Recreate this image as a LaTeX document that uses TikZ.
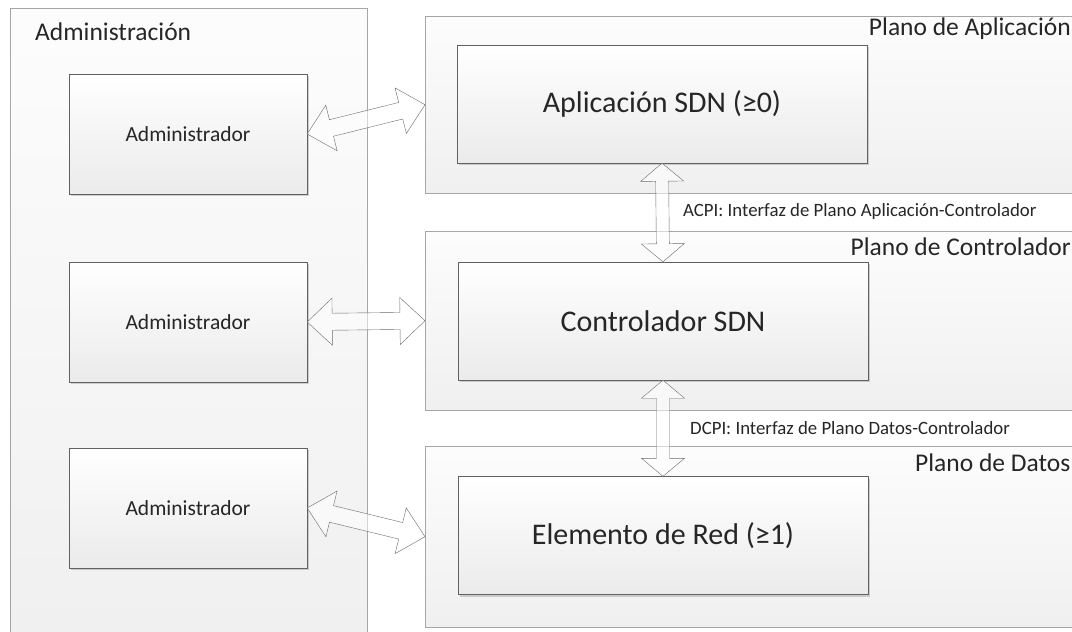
\documentclass[tikz,border=0pt]{standalone}
\usepackage{fontspec}
\setmainfont{Carlito}
\usetikzlibrary{calc, shadows}

% flecha de bloque doble entre dos anclas: {desde}{hasta}{largo punta}{ancho punta}{ancho cuerpo}
\newcommand{\dblblockarrow}[5]{%
    \path let \p1=(#1), \p2=(#2) in \pgfextra{%
        \pgfmathsetmacro\blklen{veclen(\x2-\x1,\y2-\y1)}%
        \pgfmathsetmacro\blkang{atan2(\y2-\y1,\x2-\x1)}%
        \xdef\blklen{\blklen}\xdef\blkang{\blkang}};
    \draw[blockarrow, shift={(#1)}, rotate=\blkang]
        (0pt,0pt) -- ({#3*1pt},{#4*0.5pt}) -- ({#3*1pt},{#5*0.5pt})
        -- ({\blklen*1pt-#3*1pt},{#5*0.5pt}) -- ({\blklen*1pt-#3*1pt},{#4*0.5pt})
        -- ({\blklen*1pt},0pt)
        -- ({\blklen*1pt-#3*1pt},{-#4*0.5pt}) -- ({\blklen*1pt-#3*1pt},{-#5*0.5pt})
        -- ({#3*1pt},{-#5*0.5pt}) -- ({#3*1pt},{-#4*0.5pt}) -- cycle;
}

\begin{document}
\begin{tikzpicture}[
        x=1pt, y=-1pt,
        % Estilos de las zonas y de las cajas
        areabox/.style={rectangle, draw=black!35, top color=black!1, bottom color=black!6, anchor=north west, inner sep=0pt},
        adminbox/.style={rectangle, draw=black!62, top color=white, bottom color=black!8, minimum width=238pt, minimum height=120pt, font=\fontsize{21.5}{26}\selectfont, text=black!85, drop shadow={shadow xshift=2pt, shadow yshift=-2pt, fill=black!30, opacity=0.6}},
        sdnbox/.style={rectangle, draw=black!62, top color=white, bottom color=black!8, minimum width=410pt, minimum height=118pt, font=\fontsize{30}{36}\selectfont, text=black!85, drop shadow={shadow xshift=2pt, shadow yshift=-2pt, fill=black!30, opacity=0.6}},
        titletext/.style={font=\fontsize{25.5}{30}\selectfont, inner sep=0pt, text=black!85},
        ifacetext/.style={font=\fontsize{18.8}{22}\selectfont, anchor=west, inner sep=0pt, text=black!85},
        blockarrow/.style={draw=black!58, fill=white, fill opacity=0.55, line join=miter}
    ]
    \clip (0,0) rectangle (1072,632);
    \fill[white] (0,0) rectangle (1072,632);

    % 1. Zona de administracion
    \node (admzona) [areabox, minimum width=357pt, minimum height=640pt] at (10,8) {};
    \node (lbadm) [titletext, anchor=west] at (35,32) {Administración};

    % 2. Planos
    \node (aplano) [areabox, minimum width=665pt, minimum height=177pt] at (425,16) {};
    \node (cplano) [areabox, minimum width=665pt, minimum height=179pt] at (425,231) {};
    \node (dplano) [areabox, minimum width=665pt, minimum height=181pt] at (425,446) {};

    \node (lbaplano) [titletext, anchor=east] at (1071,29) {Plano de Aplicación};
    \node (lbcplano) [titletext, anchor=east] at (1071,247) {Plano de Controlador};
    \node (lbdplano) [titletext, anchor=west] at (915,463) {Plano de Datos};

    % 3. Administradores
    \node (adm1) [adminbox] at (188,134) {Administrador};
    \node (adm2) [adminbox] at (188,322) {Administrador};
    \node (adm3) [adminbox] at (188,508) {Administrador};

    % 4. Elementos SDN
    \node (app) [sdnbox] at (662,104) {Aplicación SDN (≥0)};
    \node (ctrl) [sdnbox] at (663,321) {Controlador SDN};
    \node (elem) [sdnbox] at (663,535.5) {Elemento de Red (≥1)};

    % Flechas de bloque (administracion)
    \dblblockarrow{adm1.east}{aplano.west}{25}{47}{17}
    \dblblockarrow{adm2.east}{cplano.west}{25}{47}{17}
    \dblblockarrow{adm3.east}{dplano.west}{25}{47}{17}

    % Flechas de bloque (interfaces)
    \dblblockarrow{app.south}{ctrl.north}{18}{43}{13}
    \dblblockarrow{ctrl.south}{elem.north}{18}{43}{13}

    \node (acpi) [ifacetext] at (683,211) {ACPI: Interfaz de Plano Aplicación-Controlador};
    \node (dcpi) [ifacetext] at (690,428) {DCPI: Interfaz de Plano Datos-Controlador};

\end{tikzpicture}
\end{document}
